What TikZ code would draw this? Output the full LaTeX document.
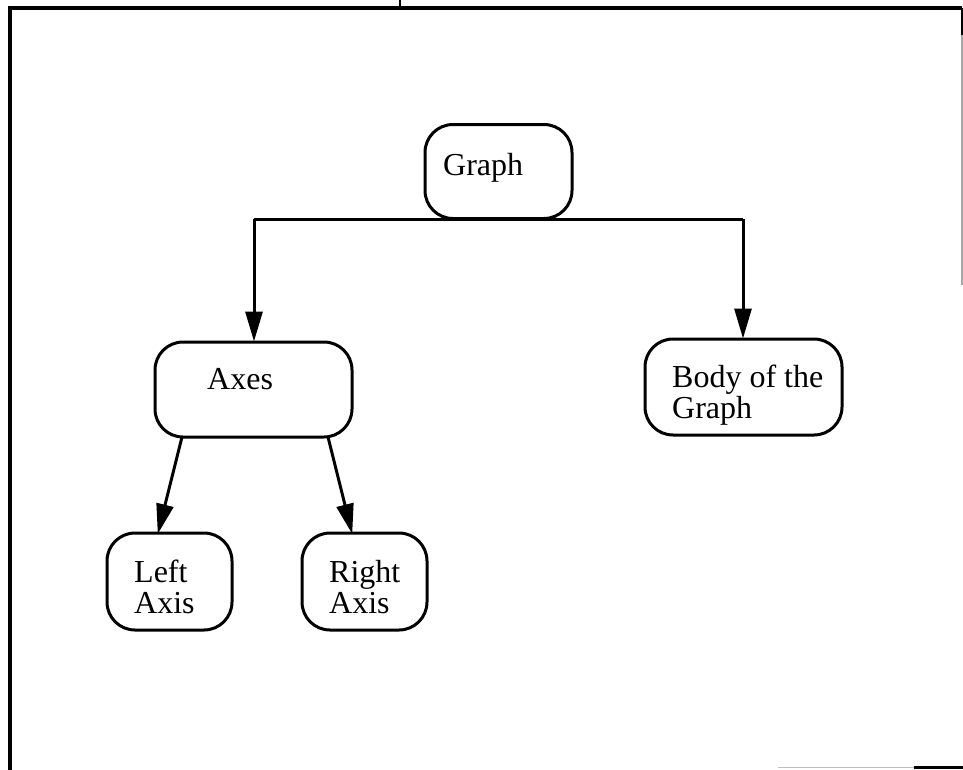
\documentclass[tikz,border=0pt]{standalone}
\usepackage{fontspec}
\setmainfont{Liberation Serif}
\usetikzlibrary{arrows.meta}
\begin{document}
\begin{tikzpicture}[x=1pt,y=-1pt,
  box/.style={draw=black, line width=3pt, rounded corners=28pt, inner sep=0pt},
  txt/.style={inner sep=0pt, anchor=base west, align=left,
    font=\fontsize{32}{31}\selectfont},
  link/.style={line width=3pt},
  arr/.style={line width=3pt, -{Triangle[length=30pt,width=17pt]}, shorten >=-1pt},
  frame/.style={line width=4.5pt}]
\useasboundingbox (0,0) rectangle (963,769);

% outer frame
\coordinate (fbl) at (10,771);
\coordinate (ftl) at (10,8);
\coordinate (ftr) at (962,8);
\coordinate (frk) at (962,35);
\coordinate (frg) at (962,285);
\coordinate (tick0) at (400,0);
\coordinate (tick1) at (400,8);
\coordinate (bot0) at (778,767.5);
\coordinate (bot1) at (914,767.5);
\coordinate (bot2) at (963,767.5);
\draw[frame] (fbl) -- (ftl) -- (ftr);
\draw[line width=2.5pt] (tick0) -- (tick1);
\draw[line width=1.5pt] (ftr) -- (frk);
\draw[gray!70, line width=1.2pt] (frk) -- (frg);
\draw[gray!50, line width=1.5pt] (bot0) -- (bot1);
\draw[line width=2.5pt] (bot1) -- (bot2);

% boxes
\node[box, minimum width=147pt, minimum height=94pt] (graph) at (498.5,171.5) {};
\node[box, minimum width=197pt, minimum height=95pt] (axes) at (253.5,389.5) {};
\node[box, minimum width=197pt, minimum height=96pt] (body) at (743.5,387) {};
\node[box, minimum width=125pt, minimum height=97pt] (left) at (169.5,581.5) {};
\node[box, minimum width=125pt, minimum height=97pt] (right) at (364.5,581.5) {};

% labels (anchored on the baseline of their last line)
\node[txt] (graphT) at (443,175) {Graph};
\node[txt] (axesT) at (207,389) {Axes};
\node[txt] (bodyT) at (672,418) {Body of the\\Graph};
\node[txt] (leftT) at (134,613) {Left\\Axis};
\node[txt] (rightT) at (329,613) {Right\\Axis};

% connectors
\coordinate (jl) at (254,219);
\coordinate (jr) at (743,219);
\draw[link] (jl) -- (jr);
\draw[arr] (jl) -- (jl |- axes.north);
\draw[arr] (jr) -- (jr |- body.north);

\coordinate (al) at (182,437);
\coordinate (ar) at (328,437);
\coordinate (lt) at (158,533);
\coordinate (rt) at (352,533);
\draw[arr] (al) -- (lt);
\draw[arr] (ar) -- (rt);
\end{tikzpicture}
\end{document}
